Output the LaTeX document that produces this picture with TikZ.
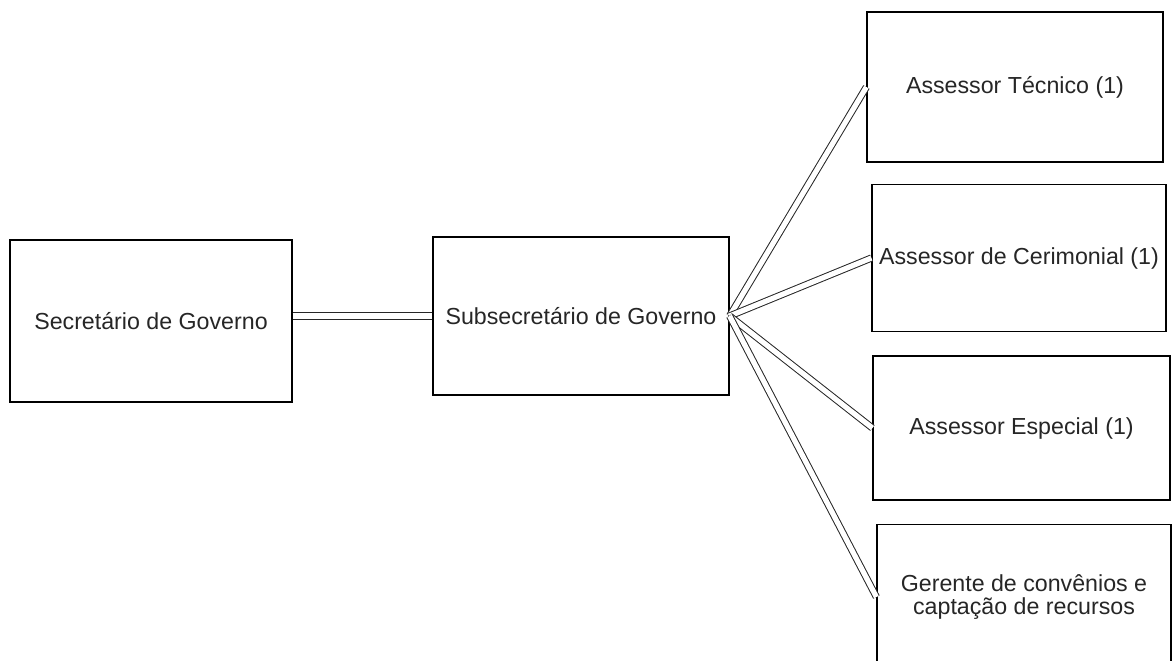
\documentclass[tikz,border=0pt]{standalone}
\usepackage{fontspec}
\setmainfont{Liberation Sans}
\begin{document}
\begin{tikzpicture}[x=0.5pt,y=-0.5pt]
\tikzstyle{every node}+=[inner sep=0pt]
\tikzstyle{cargo}=[draw=black, line width=0.6pt, text=black!85, align=center, font=\fontsize{11.6}{11.5}\selectfont]
\tikzstyle{elo}=[draw=black!85, line width=0.5pt, double=white, double distance=2.6pt]

\path [use as bounding box, clip] (0,0) rectangle (1176,660);

\node [cargo, minimum width=141pt, minimum height=81pt] (sec) at (151,321) {Secretário de Governo};
\node [cargo, minimum width=148pt, minimum height=79pt] (sub) at (581,316) {Subsecretário de Governo};

\node [cargo, minimum width=148pt, minimum height=75pt] (tec) at (1015,87) {Assessor Técnico (1)};
\node [cargo, minimum width=147pt, minimum height=73.5pt] (cer) at (1019,258) {Assessor de Cerimonial (1)};
\node [cargo, minimum width=148.5pt, minimum height=72pt] (esp) at (1021.5,428) {Assessor Especial (1)};
\node [cargo, minimum width=147pt, minimum height=72.5pt] (ger) at (1024,597) {Gerente de convênios e\\captação de recursos};

\draw [elo, double distance=3.2pt] (sec.east |- sub.west) -- (sub.west);
\draw [elo] (sub.east) -- (tec.west);
\draw [elo] (sub.east) -- (cer.west);
\draw [elo] (sub.east) -- (esp.west);
\draw [elo] (sub.east) -- (ger.west);
\end{tikzpicture}
\end{document}
